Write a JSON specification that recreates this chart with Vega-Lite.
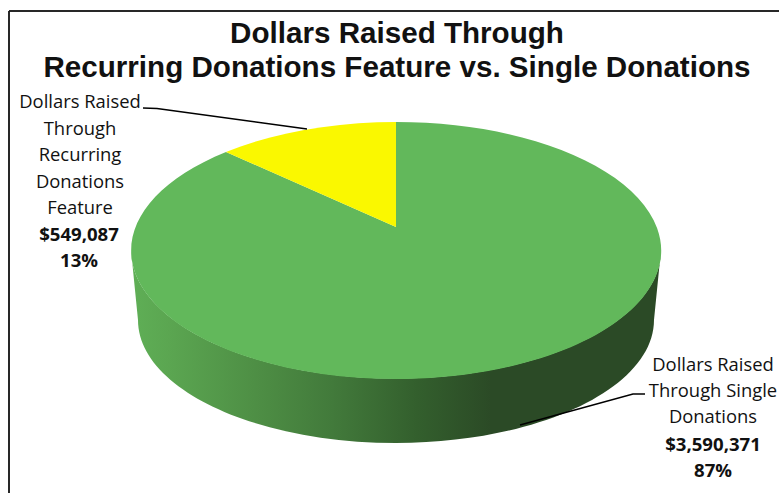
{"$schema":"https://vega.github.io/schema/vega-lite/v6.json","width":770,"height":482,"autosize":"none","padding":{"left":9,"top":11,"right":0,"bottom":0},"background":"white","config":{"view":{"stroke":null}},"data":{"values":[{"slice":"Dollars Raised Through Single Donations","label":"Dollars Raised\nThrough Single\nDonations","value":3590371,"share":0.87},{"slice":"Dollars Raised Through Recurring Donations Feature","label":"Dollars Raised\nThrough\nRecurring\nDonations\nFeature","value":549087,"share":0.13}]},"resolve":{"scale":{"shape":"independent","color":"independent"}},"layer":[{"mark":{"type":"rule","color":"#1a1a1a","strokeWidth":1.5},"encoding":{"x":{"value":0}}},{"mark":{"type":"rule","color":"#1a1a1a","strokeWidth":1.5},"encoding":{"y":{"value":0}}},{"data":{"values":[{"heading":"Dollars Raised Through\nRecurring Donations Feature vs. Single Donations"}]},"mark":{"type":"text","font":"Liberation Sans","fontSize":29.6,"fontWeight":"bold","color":"#111111","align":"center","baseline":"alphabetic","lineBreak":"\n","lineHeight":33.5,"dx":3,"dy":-209},"encoding":{"text":{"field":"heading"}}},{"transform":[{"filter":"datum.share>0.5"}],"mark":{"type":"point","filled":true,"opacity":1,"size":4,"strokeWidth":0,"shape":"M-263,-2 A265,128.5 0 0 0 267,-2 L260,68 A258,123 0 0 1 -256,68 Z","fill":{"gradient":"linear","x1":0,"y1":0,"x2":1,"y2":0,"stops":[{"offset":0,"color":"#5FAF56"},{"offset":0.07,"color":"#5BA651"},{"offset":0.26,"color":"#4C8B43"},{"offset":0.38,"color":"#427A3B"},{"offset":0.54,"color":"#335F2D"},{"offset":0.68,"color":"#2B4A26"},{"offset":1,"color":"#2B4A26"}]}}},{"mark":{"type":"point","filled":true,"opacity":1,"size":4,"strokeWidth":0},"encoding":{"shape":{"field":"slice","type":"nominal","legend":null,"scale":{"domain":["Dollars Raised Through Single Donations","Dollars Raised Through Recurring Donations Feature"],"range":["M2,-25 L2,-130 A265,128.5 0 1 1 -168,-100 Z","M2,-25 L2,-130 A265,128.5 0 0 0 -168,-100 Z"]}},"color":{"field":"slice","type":"nominal","legend":null,"scale":{"domain":["Dollars Raised Through Single Donations","Dollars Raised Through Recurring Donations Feature"],"range":["#62B85B","#FAF800"]}}}},{"mark":{"type":"point","filled":false,"opacity":1,"size":4,"strokeWidth":1.4,"color":"#000000"},"encoding":{"shape":{"field":"slice","type":"nominal","legend":null,"scale":{"domain":["Dollars Raised Through Single Donations","Dollars Raised Through Recurring Donations Feature"],"range":["M251,142 L239,142 L126,173","M-251,-144 L-237,-143.5 L-87,-123"]}}}},{"transform":[{"filter":"datum.share<0.5"}],"mark":{"type":"text","font":"Open Sans","fontSize":18.4,"lineHeight":26.6,"lineBreak":"\n","align":"center","baseline":"alphabetic","dx":-314,"dy":-144,"color":"#111111"},"encoding":{"text":{"field":"label"}}},{"transform":[{"filter":"datum.share<0.5"}],"mark":{"type":"text","font":"Open Sans","fontSize":18.6,"fontWeight":"bold","align":"center","baseline":"alphabetic","dx":-315,"dy":-11,"color":"#111111"},"encoding":{"text":{"field":"value","format":"$,d"}}},{"transform":[{"filter":"datum.share<0.5"}],"mark":{"type":"text","font":"Open Sans","fontSize":18.6,"fontWeight":"bold","align":"center","baseline":"alphabetic","dx":-315,"dy":15,"color":"#111111"},"encoding":{"text":{"field":"share","format":".0%"}}},{"transform":[{"filter":"datum.share>0.5"}],"mark":{"type":"text","font":"Open Sans","fontSize":18.4,"lineHeight":26,"lineBreak":"\n","align":"center","baseline":"alphabetic","dx":319,"dy":119,"color":"#111111"},"encoding":{"text":{"field":"label"}}},{"transform":[{"filter":"datum.share>0.5"}],"mark":{"type":"text","font":"Open Sans","fontSize":18.6,"fontWeight":"bold","align":"center","baseline":"alphabetic","dx":319,"dy":199,"color":"#111111"},"encoding":{"text":{"field":"value","format":"$,d"}}},{"transform":[{"filter":"datum.share>0.5"}],"mark":{"type":"text","font":"Open Sans","fontSize":18.6,"fontWeight":"bold","align":"center","baseline":"alphabetic","dx":319,"dy":225,"color":"#111111"},"encoding":{"text":{"field":"share","format":".0%"}}}]}
